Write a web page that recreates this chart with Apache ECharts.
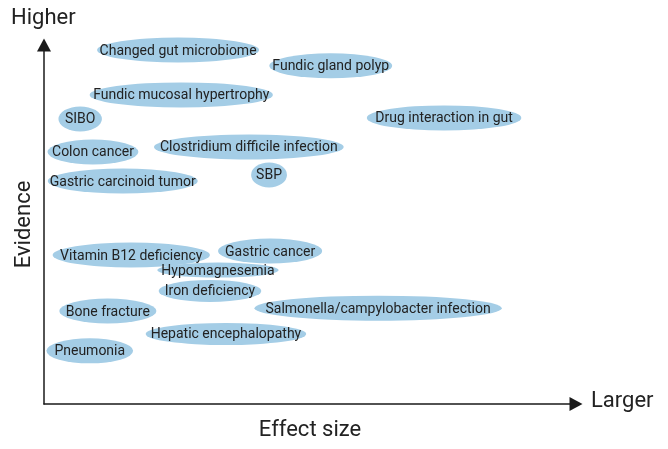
<!DOCTYPE html>
<html><head><meta charset="utf-8">
<script src="https://cdn.jsdelivr.net/npm/echarts@6/dist/echarts.min.js"></script>
<style>html,body{margin:0;padding:0;background:#fff}#c{width:668px;height:449px}</style>
</head><body><div id="c"></div>
<script>
// ---- data (relative units 0..100) ----
const labels = [
  'Changed gut microbiome', 'Fundic gland polyp', 'Fundic mucosal hypertrophy', 'SIBO',
  'Drug interaction in gut', 'Colon cancer', 'Clostridium difficile infection',
  'Gastric carcinoid tumor', 'SBP', 'Vitamin B12 deficiency', 'Gastric cancer',
  'Hypomagnesemia', 'Iron deficiency', 'Salmonella/campylobacter infection',
  'Bone fracture', 'Hepatic encephalopathy', 'Pneumonia'
];
const effectSize = [25.2, 53.9, 25.8, 6.8, 75.2, 9.2, 38.5, 14.8, 42.3, 16.4, 42.5, 32.7, 31.2, 62.8, 12.0, 34.2, 8.6];
const evidence   = [98.6, 94.2, 86.1, 79.4, 79.7, 70.2, 71.6, 62.1, 63.8, 41.5, 42.6, 37.3, 31.5, 26.7, 25.9, 19.5, 14.8];
const axisNames = { x: 'Effect size', y: 'Evidence', xEnd: 'Larger', yEnd: 'Higher' };

// ---- styling ----
const FONT = 'Roboto, "Liberation Sans", sans-serif';
const LABEL_SIZE = 14;
const FILL = '#a4cde6';
const heightOverride = { 'Hypomagnesemia': 15, 'Iron deficiency': 22, 'Hepatic encephalopathy': 22 };
const padOverride = {
  'Changed gut microbiome': 5, 'Fundic gland polyp': 6, 'Gastric carcinoid tumor': 4,
  'Fundic mucosal hypertrophy': 7, 'Colon cancer': 9, 'Hypomagnesemia': 8,
  'Salmonella/campylobacter infection': 22, 'Drug interaction in gut': 17,
  'Vitamin B12 deficiency': 15, 'Pneumonia': 16, 'Gastric cancer': 14, 'Bone fracture': 13,
  'Iron deficiency': 12, 'Clostridium difficile infection': 12, 'SIBO': 13
};
const ctx = document.createElement('canvas').getContext('2d');
ctx.font = LABEL_SIZE + 'px ' + FONT;

const points = labels.map((n, i) => ({ name: n, value: [effectSize[i], evidence[i]] }));

const chart = echarts.init(document.getElementById('c'), null, { renderer: 'canvas' });
const axisLine = { show: true, symbol: ['none', 'triangle'], symbolSize: [14, 13],
  lineStyle: { color: '#1a1a1a', width: 1.5 } };
chart.setOption({
  animation: false,
  grid: { left: 44, right: 92, top: 45, bottom: 45 },
  xAxis: { type: 'value', min: 0, max: 100, axisLine: axisLine, axisTick: { show: false },
    axisLabel: { show: false }, splitLine: { show: false },
    name: axisNames.x, nameLocation: 'middle', nameGap: 15,
    nameTextStyle: { fontSize: 22, color: '#222', fontFamily: FONT } },
  yAxis: { type: 'value', min: 0, max: 100, axisLine: axisLine, axisTick: { show: false },
    axisLabel: { show: false }, splitLine: { show: false },
    name: axisNames.y, nameLocation: 'middle', nameGap: 9, nameRotate: 90,
    nameTextStyle: { fontSize: 22, color: '#222', fontFamily: FONT } },
  graphic: [
    { type: 'text', left: 11, top: 7, style: { text: axisNames.yEnd, font: '22px ' + FONT, fill: '#222' } },
    { type: 'text', left: 591, top: 390, style: { text: axisNames.xEnd, font: '22px ' + FONT, fill: '#222' } }
  ],
  series: [{
    type: 'scatter',
    data: points,
    symbol: 'circle',
    symbolSize: function (val, p) {
      const pad = padOverride[p.name] != null ? padOverride[p.name] : 10;
      const w = ctx.measureText(p.name).width + pad;
      return [w, heightOverride[p.name] || 25];
    },
    itemStyle: { color: FILL, opacity: 1 },
    label: { show: true, position: 'inside', formatter: '{b}', color: '#222',
      fontSize: LABEL_SIZE, fontFamily: FONT, offset: [0, 1] },
    emphasis: { disabled: true }
  }]
});
</script></body></html>
